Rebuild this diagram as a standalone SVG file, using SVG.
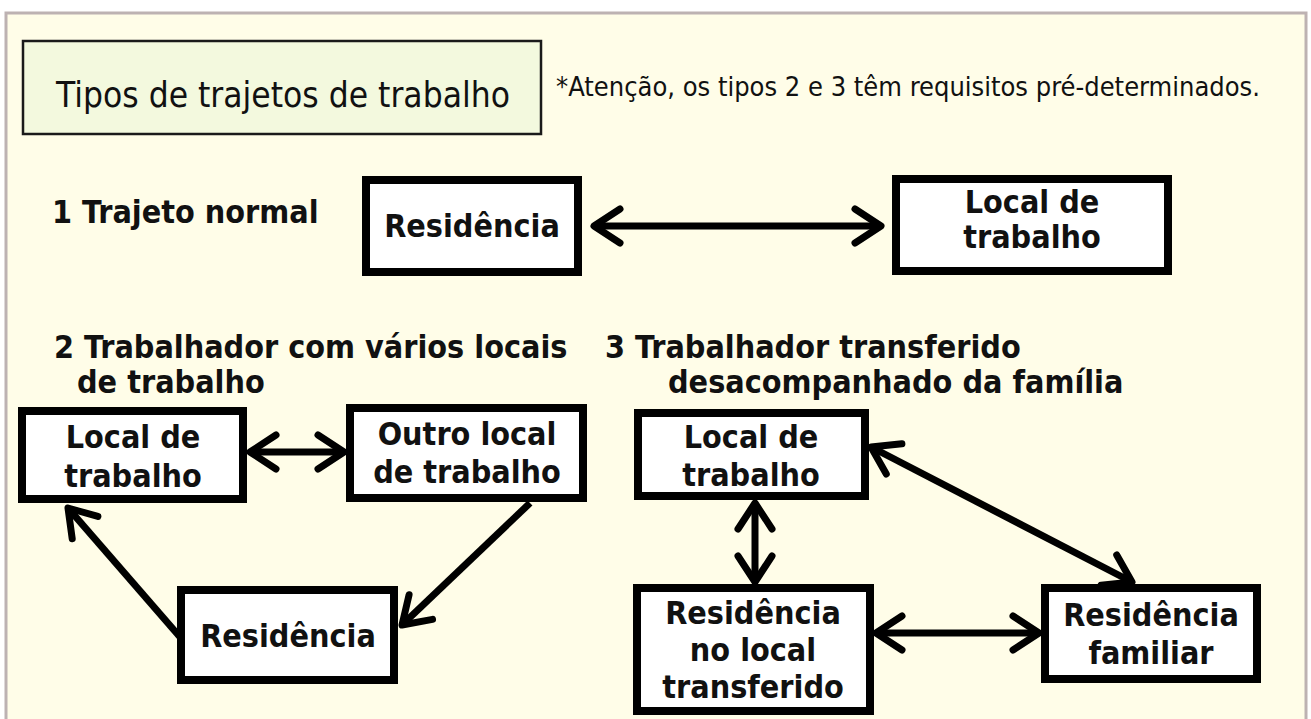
<svg xmlns="http://www.w3.org/2000/svg" width="1311" height="719" viewBox="0 0 1311 719">
<defs>
<style>
.frame{fill:#FFFDE8;stroke:#BDB2B2;stroke-width:3}
.tbox{fill:#F3F9DE;stroke:#1a1a1a;stroke-width:2.5}
.box{fill:#FFFFFF;stroke:#000;stroke-width:8}
.lbl{font-family:"DejaVu Sans Condensed","DejaVu Sans",sans-serif;font-weight:bold;font-size:32px;fill:#111;text-anchor:middle}
.hd{font-family:"DejaVu Sans Condensed","DejaVu Sans",sans-serif;font-weight:bold;font-size:32px;fill:#111}
.reg{font-family:"DejaVu Sans Condensed","DejaVu Sans",sans-serif;fill:#111}
.con{fill:none;stroke:#000;stroke-width:7}
</style>
<marker id="ah" markerUnits="userSpaceOnUse" markerWidth="50" markerHeight="50" refX="40" refY="25" orient="auto-start-reverse" overflow="visible">
<path d="M14 8 L40 25 L14 42" fill="none" stroke="#000" stroke-width="7" stroke-linecap="round" stroke-linejoin="round"/>
</marker>
</defs>
<rect width="1311" height="719" fill="#FFFFFF"/>
<rect class="frame" x="6" y="13" width="1300" height="720"/>

<g id="title">
<rect class="tbox" x="23" y="41" width="518" height="93"/>
<text class="reg" x="283" y="107" font-size="35" text-anchor="middle">Tipos de trajetos de trabalho</text>
</g>
<g id="note">
<text class="reg" x="556" y="96" font-size="27">*Atenção, os tipos 2 e 3 têm requisitos pré-determinados.</text>
</g>

<g id="heading1"><text class="hd" x="52" y="223">1 Trajeto normal</text></g>
<g id="heading2"><text class="hd" x="54" y="358">2 Trabalhador com vários locais</text><text class="hd" x="77" y="393">de trabalho</text></g>
<g id="heading3"><text class="hd" x="605" y="358">3 Trabalhador transferido</text><text class="hd" x="668" y="393">desacompanhado da família</text></g>

<g id="s1-residencia"><rect class="box" x="366" y="180" width="212" height="92"/><text class="lbl" x="472" y="237">Residência</text></g>
<g id="s1-local"><rect class="box" x="896" y="179" width="272" height="92"/><text class="lbl" x="1032" y="213">Local de</text><text class="lbl" x="1032" y="248">trabalho</text></g>

<g id="s2-local"><rect class="box" x="22" y="411" width="221" height="88"/><text class="lbl" x="133" y="448">Local de</text><text class="lbl" x="133" y="487">trabalho</text></g>
<g id="s2-outro"><rect class="box" x="350" y="408" width="233" height="90"/><text class="lbl" x="467" y="445">Outro local</text><text class="lbl" x="467" y="483">de trabalho</text></g>
<g id="s2-residencia"><rect class="box" x="181" y="590" width="213" height="90"/><text class="lbl" x="288" y="647">Residência</text></g>

<g id="s3-local"><rect class="box" x="638" y="413" width="227" height="83"/><text class="lbl" x="751" y="448">Local de</text><text class="lbl" x="751" y="486">trabalho</text></g>
<g id="s3-resloc"><rect class="box" x="637" y="588" width="233" height="123"/><text class="lbl" x="753" y="624">Residência</text><text class="lbl" x="753" y="661">no local</text><text class="lbl" x="753" y="698">transferido</text></g>
<g id="s3-resfam"><rect class="box" x="1045" y="588" width="212" height="91"/><text class="lbl" x="1151" y="626">Residência</text><text class="lbl" x="1151" y="664">familiar</text></g>

<g id="connectors">
<line class="con" x1="594" y1="226" x2="881" y2="226" marker-start="url(#ah)" marker-end="url(#ah)"/>
<line class="con" x1="250" y1="452" x2="344" y2="452" marker-start="url(#ah)" marker-end="url(#ah)"/>
<line class="con" x1="180" y1="637" x2="68" y2="508" marker-end="url(#ah)"/>
<line class="con" x1="530" y1="503" x2="402" y2="625" marker-end="url(#ah)"/>
<line class="con" x1="755" y1="503" x2="755" y2="582" marker-start="url(#ah)" marker-end="url(#ah)"/>
<line class="con" x1="876" y1="633" x2="1039" y2="633" marker-start="url(#ah)" marker-end="url(#ah)"/>
<line class="con" x1="871" y1="447" x2="1132" y2="582" marker-start="url(#ah)" marker-end="url(#ah)"/>
</g>
</svg>
